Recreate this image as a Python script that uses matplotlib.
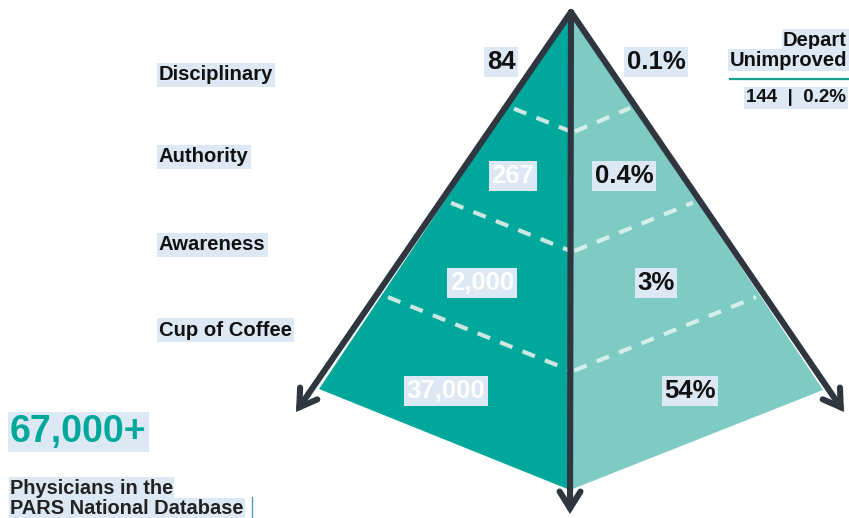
import matplotlib
matplotlib.use("Agg")
import matplotlib.pyplot as plt
from matplotlib.patches import Polygon

# ---- data ----
levels = ["Disciplinary", "Authority", "Awareness", "Cup of Coffee"]
counts = ["84", "267", "2,000", "37,000"]
percents = ["0.1%", "0.4%", "3%", "54%"]
depart_count = "144"
depart_pct = "0.2%"
total_label = "67,000+"
total_desc = ["Physicians in the", "PARS National Database"]
boundaries = [0.25, 0.5, 0.75]   # dashed level dividers (fraction of height)

# ---- style ----
FONT = "Liberation Sans"
DARK = "#30363f"
TEAL = "#00a79b"
LIGHT_TEAL = "#7ecbc4"
HIL = "#dce9f5"
plt.rcParams["font.family"] = [FONT, "DejaVu Sans"]

fig = plt.figure(figsize=(8.49, 5.18), dpi=100)
ax = fig.add_axes([0, 0, 1, 1])
ax.set_xlim(0, 849)
ax.set_ylim(518, 0)
ax.axis("off")

# pyramid geometry (layout)
A = (571, 12)      # apex
L = (319, 389)     # left corner
R = (823, 390)     # right corner
B = (570, 490)     # bottom front corner


def lerp(p, q, t):
    return (p[0] + (q[0] - p[0]) * t, p[1] + (q[1] - p[1]) * t)


ax.add_patch(Polygon([A, L, B], closed=True, fc=TEAL, ec="none", zorder=1))
ax.add_patch(Polygon([A, R, B], closed=True, fc=LIGHT_TEAL, ec="none", zorder=1))

# dashed dividers parallel to the bottom edges
for t in boundaries:
    pl = lerp(A, L, t)
    pc = lerp(A, B, t)
    pr = lerp(A, R, t)
    ax.plot([pl[0] + 6, pc[0]], [pl[1] + 2.4, pc[1]], color="#cbe7e3", lw=3,
            dashes=(3.2, 2.6), solid_capstyle="butt", zorder=2)
    ax.plot([pc[0] + 4, pr[0] - 4], [pc[1], pr[1] + 1.6], color="#d6eeea", lw=3,
            dashes=(3.2, 2.6), solid_capstyle="butt", zorder=2)

# edges with arrow heads
arrow_kw = dict(arrowstyle="->,head_length=1.2,head_width=0.75", lw=4.4,
                color=DARK, shrinkA=0, shrinkB=0, mutation_scale=10,
                capstyle="round", joinstyle="miter")
tips = [(296, 412), (844, 412), (570, 514)]
for tip in tips:
    ax.annotate("", xy=tip, xytext=A, arrowprops=arrow_kw, zorder=4)

# level labels
label_y = [75, 157, 245, 330]
for name, y in zip(levels, label_y):
    ax.text(159, y, name, ha="left", va="center", fontsize=14.6, fontweight="bold",
            color="#111111", bbox=dict(boxstyle="square,pad=0.1", fc=HIL, ec="none"), zorder=5)

# counts on the left face
count_pos = [(501, 62), (513, 176), (482, 283), (446, 391)]
count_col = ["#111111", "white", "white", "white"]
for c, (x, y), col in zip(counts, count_pos, count_col):
    ax.text(x, y, c, ha="center", va="center", fontsize=18.5, fontweight="bold",
            color=col, bbox=dict(boxstyle="square,pad=0.1", fc=HIL, ec="none"), zorder=5)

# percents on the right face
pct_pos = [(656, 62), (624, 176), (656, 283), (690, 391)]
for p, (x, y) in zip(percents, pct_pos):
    ax.text(x, y, p, ha="center", va="center", fontsize=18.5, fontweight="bold",
            color="#111111", bbox=dict(boxstyle="square,pad=0.1", fc=HIL, ec="none"), zorder=5)

# depart unimproved box
ax.text(847, 40, "Depart", ha="right", va="center", fontsize=14.5, fontweight="bold",
        color="#111111", bbox=dict(boxstyle="square,pad=0.08", fc=HIL, ec="none"), zorder=5)
ax.text(847, 60, "Unimproved", ha="right", va="center", fontsize=14.5, fontweight="bold",
        color="#111111", bbox=dict(boxstyle="square,pad=0.08", fc=HIL, ec="none"), zorder=5)
ax.plot([730, 849], [79, 79], color="#1aa394", lw=1.6, zorder=5)
ax.text(846, 98, f"{depart_count}  |  {depart_pct}", ha="right", va="center", fontsize=13.5,
        fontweight="bold", color="#111111",
        bbox=dict(boxstyle="square,pad=0.12", fc=HIL, ec="none"), zorder=5)

# total
ax.text(10, 432, total_label, ha="left", va="center", fontsize=27, fontweight="bold",
        color=TEAL, bbox=dict(boxstyle="square,pad=0.06", fc=HIL, ec="none"), zorder=5)
ax.text(10, 488, total_desc[0], ha="left", va="center", fontsize=14.4, fontweight="bold",
        color="#222222", bbox=dict(boxstyle="square,pad=0.06", fc=HIL, ec="none"), zorder=5)
ax.text(10, 509, total_desc[1], ha="left", va="center", fontsize=14.4, fontweight="bold",
        color="#222222", bbox=dict(boxstyle="square,pad=0.06", fc=HIL, ec="none"), zorder=5)
ax.plot([252, 252], [497, 517], color="#5b9bd5", lw=1, zorder=5)

fig.savefig("out.png", dpi=100)
